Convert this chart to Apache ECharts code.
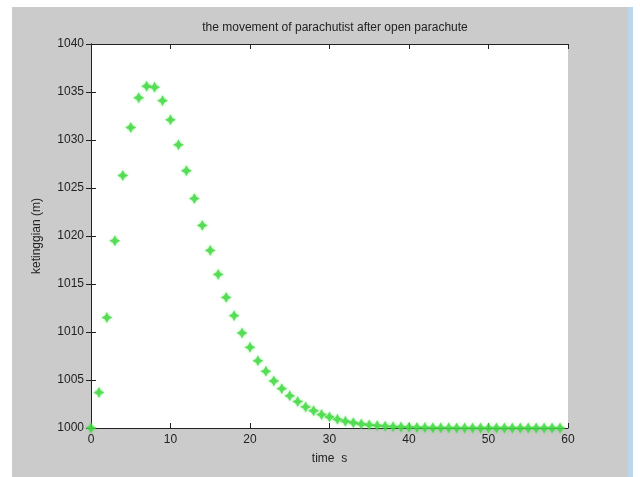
<!DOCTYPE html>
<html><head><meta charset="utf-8">
<script src="https://cdn.jsdelivr.net/npm/echarts@6/dist/echarts.min.js"></script>
<style>
html,body{margin:0;padding:0;background:#fff;}
#bg{position:absolute;left:12px;top:7px;width:616px;height:470px;background:#cbcbcb;}
#strip{position:absolute;left:628px;top:7px;width:5px;height:470px;background:#bcd6ec;}
#main{position:absolute;left:0;top:0;width:640px;height:477px;}
</style></head>
<body>
<div id="bg"></div><div id="strip"></div>
<div id="main"></div>
<script>
const titleText = 'the movement of parachutist after open parachute';
const xLabel = 'time  s';
const yLabel = 'ketinggian (m)';
const times = [];
for (let i = 0; i < 60; i++) times.push(i);
const heights = [
 1000.0, 1003.7, 1011.5, 1019.5, 1026.3, 1031.3, 1034.4, 1035.6, 1035.5, 1034.1,
 1032.1, 1029.5, 1026.8, 1023.9, 1021.1, 1018.5, 1016.0, 1013.6, 1011.7, 1009.9,
 1008.4, 1007.0, 1005.9, 1004.9, 1004.1, 1003.35, 1002.75, 1002.2, 1001.8, 1001.4,
 1001.15, 1000.9, 1000.7, 1000.55, 1000.42, 1000.32, 1000.25, 1000.19, 1000.14, 1000.1,
 1000.08, 1000.06, 1000.04, 1000.03, 1000.02, 1000.02, 1000.01, 1000.01, 1000.01, 1000.0,
 1000.0, 1000.0, 1000.0, 1000.0, 1000.0, 1000.0, 1000.0, 1000.0, 1000.0, 1000.0
];
const data = times.map((t, i) => [t, heights[i]]);
const chart = echarts.init(document.getElementById('main'));
const font = 'Liberation Sans, Arial, sans-serif';
const axisLine = {show: true, lineStyle: {color: '#222', width: 1}};
const tick = {show: true, inside: true, length: 5, lineStyle: {color: '#222'}};
chart.setOption({
  animation: false,
  backgroundColor: 'transparent',
  title: {text: titleText, left: 330, top: 17, textAlign: 'center',
    textStyle: {fontFamily: font, fontSize: 12, fontWeight: 'normal', color: '#222'}},
  grid: {left: 91, right: 72, top: 44, bottom: 49, show: true, backgroundColor: '#fff', borderWidth: 0},
  xAxis: [
    {type: 'value', min: 0, max: 60, interval: 10, position: 'bottom',
     name: xLabel, nameLocation: 'middle', nameGap: 25,
     nameTextStyle: {fontFamily: font, fontSize: 12, color: '#222'},
     axisLine, axisTick: tick, splitLine: {show: false},
     axisLabel: {fontFamily: font, fontSize: 12, color: '#222', margin: 6, formatter: v => String(v)}},
    {type: 'value', min: 0, max: 60, interval: 10, position: 'top',
     axisLine, axisTick: tick, splitLine: {show: false}, axisLabel: {show: false}}
  ],
  yAxis: [
    {type: 'value', min: 1000, max: 1040, interval: 5, position: 'left',
     name: yLabel, nameLocation: 'middle', nameGap: 48, nameRotate: 90,
     nameTextStyle: {fontFamily: font, fontSize: 12, color: '#222'},
     axisLine, axisTick: tick, splitLine: {show: false},
     axisLabel: {fontFamily: font, fontSize: 12, color: '#222', margin: 7, formatter: v => String(v)}},
    {type: 'value', min: 1000, max: 1040, interval: 5, position: 'right',
     axisLine, axisTick: tick, splitLine: {show: false}, axisLabel: {show: false}}
  ],
  series: [{
    type: 'scatter', data: data, xAxisIndex: 0, yAxisIndex: 0,
    symbol: 'path://M0,-10 L3.5,-3.5 L10,0 L3.5,3.5 L0,10 L-3.5,3.5 L-10,0 L-3.5,-3.5 Z',
    symbolSize: 11,
    itemStyle: {color: '#3fd83f', shadowBlur: 3, shadowColor: 'rgba(60,220,60,0.6)'},
    clip: false
  }]
});
</script>
</body></html>
